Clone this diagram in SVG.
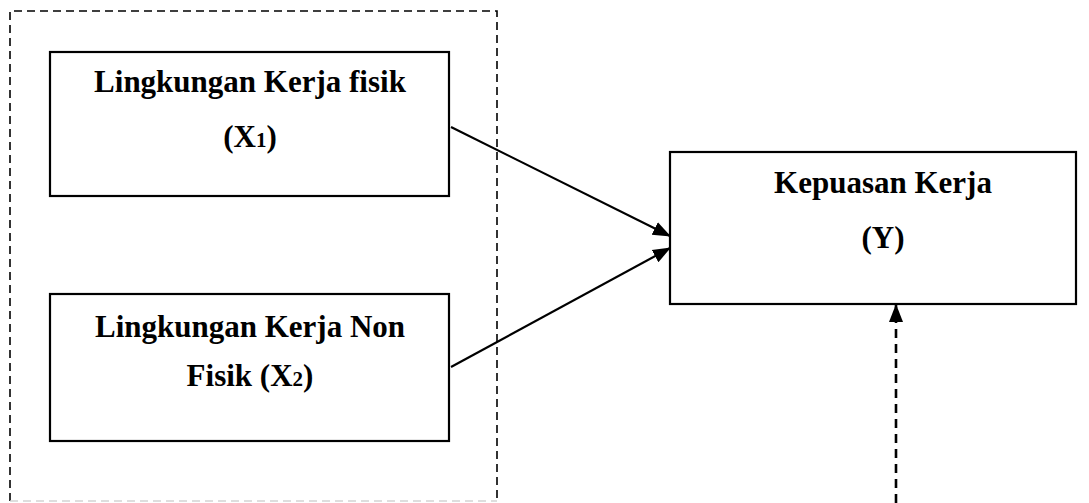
<svg xmlns="http://www.w3.org/2000/svg" width="1089" height="503" viewBox="0 0 1089 503">
<style>
.box{fill:#fff;stroke:#000;stroke-width:2.2}
.lbl{font-family:"Liberation Serif","Times New Roman",serif;font-weight:bold;font-size:31px;fill:#000;text-anchor:middle}
.sub{font-size:21px}
.edge{stroke:#000;stroke-width:2.2;fill:none}
.dash{stroke:#000;stroke-width:1.6;fill:none;stroke-dasharray:8 5}
</style>
<defs>
<marker id="ah" markerUnits="userSpaceOnUse" markerWidth="18" markerHeight="16" refX="17" refY="7" orient="auto" viewBox="0 0 18 14">
<path d="M0,0 L18,7 L0,14 Z" fill="#000"/>
</marker>
</defs>
<rect width="1089" height="503" fill="#fff"/>
<g id="frame">
<path class="dash" d="M10,501 L10,11 L497,11 L497,501"/>
<line x1="10" y1="501" x2="497" y2="501" stroke="#d4d4d4" stroke-width="1.6" stroke-dasharray="8 5"/>
</g>
<g id="x1">
<rect class="box" x="50" y="52" width="399" height="144"/>
<text class="lbl" x="250" y="92">Lingkungan Kerja fisik</text>
<text class="lbl" x="250" y="147">(X<tspan class="sub">1</tspan>)</text>
</g>
<g id="x2">
<rect class="box" x="50" y="294" width="399" height="147"/>
<text class="lbl" x="250" y="337">Lingkungan Kerja Non</text>
<text class="lbl" x="250" y="386">Fisik (X<tspan class="sub">2</tspan>)</text>
</g>
<g id="y">
<rect class="box" x="670" y="152" width="406" height="152"/>
<text class="lbl" x="883" y="193">Kepuasan Kerja</text>
<text class="lbl" x="883" y="248">(Y)</text>
</g>
<g id="connectors">
<line class="edge" x1="451" y1="127" x2="670" y2="236" marker-end="url(#ah)"/>
<line class="edge" x1="451" y1="367" x2="670" y2="248" marker-end="url(#ah)"/>
<line x1="896" y1="503" x2="896" y2="305" stroke="#000" stroke-width="2.6" stroke-dasharray="9 6" marker-end="url(#ah)"/>
</g>
</svg>
